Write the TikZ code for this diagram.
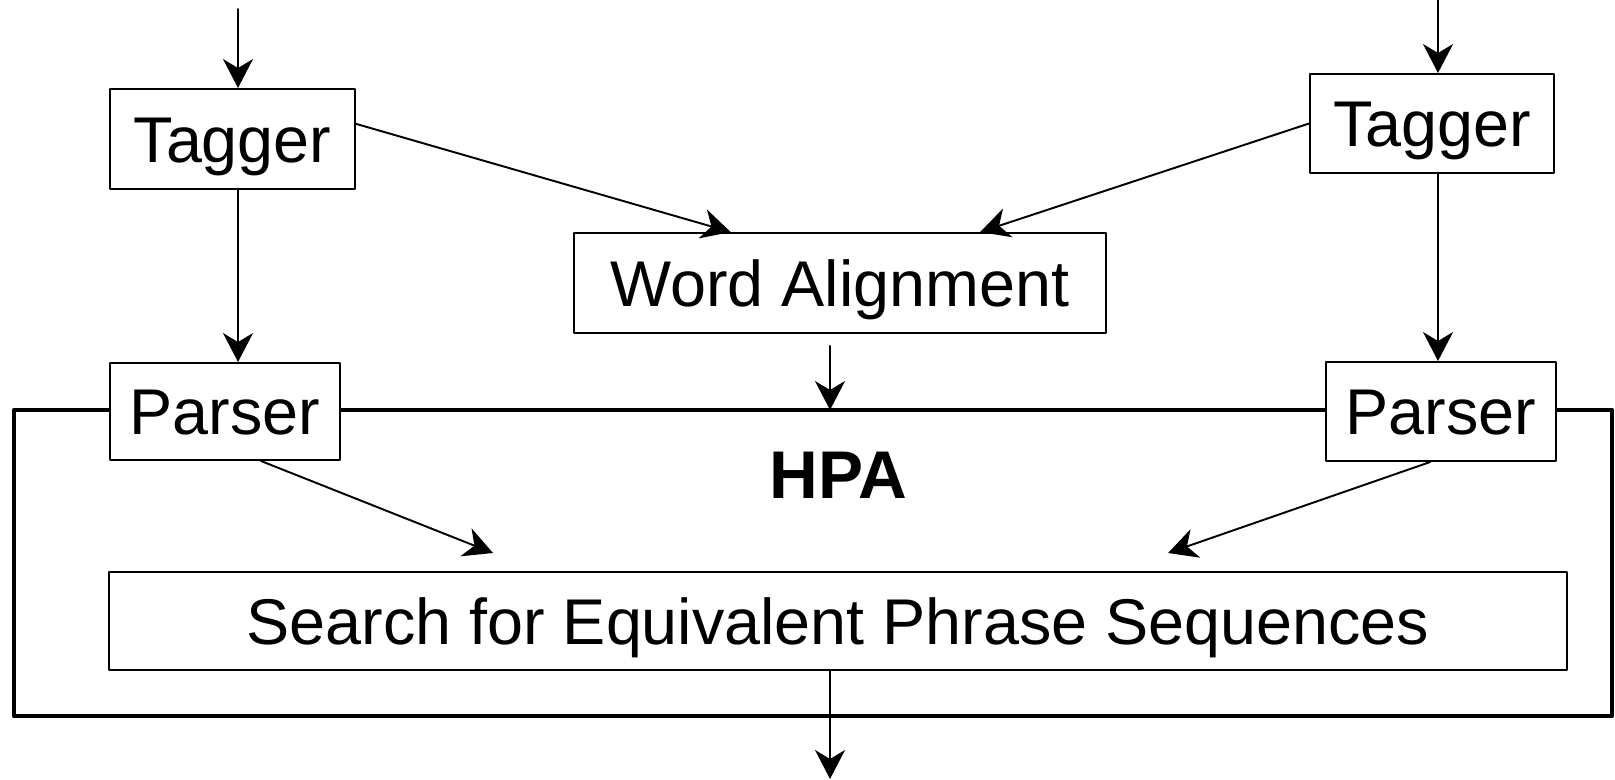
\documentclass[tikz,border=0pt]{standalone}
\usepackage{fontspec}
\setmainfont{Liberation Sans}
\usetikzlibrary{arrows.meta}
\begin{document}
\begin{tikzpicture}[line join=round, line cap=round,>={Stealth[length=2.9mm,width=3mm,inset=0.9mm]},line width=0.55pt]
			\tikzset{box/.style={draw,fill=white,inner sep=0pt,text height=0.46cm,text depth=0pt,font=\fontsize{18.4}{22}\selectfont}}
			\useasboundingbox (0,0) rectangle (16.15,-7.79);
			% HPA frame
			\draw[line width=1.35pt] (0.14,-4.10) rectangle (16.12,-7.16);
			\node[box,minimum width=2.45cm,minimum height=1.00cm] (tagL) at (2.325,-1.39) {Tagger};
			\node[box,minimum width=2.44cm,minimum height=0.99cm] (tagR) at (14.32,-1.235) {Tagger};
			\node[box,minimum width=2.30cm,minimum height=0.97cm] (parL) at (2.25,-4.115) {Parser};
			\node[box,minimum width=2.30cm,minimum height=0.99cm] (parR) at (14.41,-4.115) {Parser};
			\node[box,minimum width=5.32cm,minimum height=1.00cm] (align) at (8.40,-2.83) {Word Alignment};
			\node[box,minimum width=14.58cm,minimum height=0.98cm] (search) at (8.38,-6.21) {Search for Equivalent Phrase Sequences};
			\node[box,draw=none,fill=none,font=\fontsize{19.2}{23}\selectfont\bfseries] (hpa) at (8.38,-4.75) {HPA};
			\coordinate (inL) at (2.38,-0.09);
			\coordinate (inR) at (14.38,0);
			\coordinate (hpaN) at (8.30,-4.10);
			\coordinate (srchL) at (4.93,-5.53);
			\coordinate (srchR) at (11.68,-5.53);
			\coordinate (out) at (8.30,-7.79);
			% left column
			\draw[->] (inL) -- (inL |- tagL.north);
			\draw[->] (inL |- tagL.south) -- (inL |- parL.north);
			\draw[->] (parL.-54) -- (srchL);
			% right column
			\draw[->] (inR) -- (inR |- tagR.north);
			\draw[->] (inR |- tagR.south) -- (inR |- parR.north);
			\draw[->] (parR.258) -- (srchR);
			% alignment
			\draw[->] (tagL.7.6) -- (align.155);
			\draw[->] (tagR.west) -- (align.20.5);
			\draw[->,shorten <=0.12cm] (hpaN |- align.south) -- (hpaN);
			\draw[->] (out |- search.south) -- (out);
		\end{tikzpicture}
\end{document}
